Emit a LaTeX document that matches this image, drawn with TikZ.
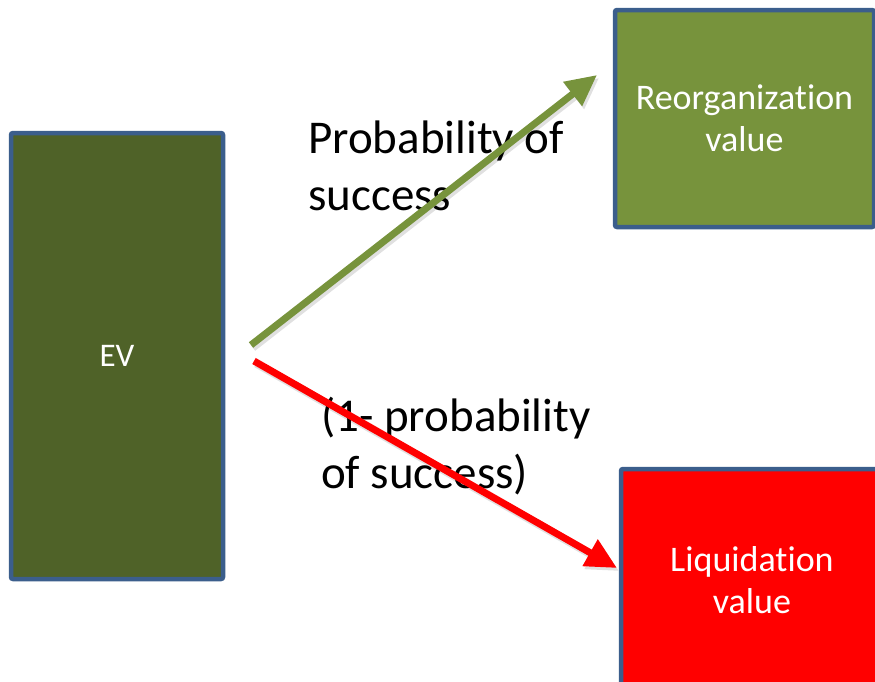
\documentclass[tikz,border=0pt]{standalone}
\usepackage{fontspec}
\setmainfont{Carlito}[Ligatures=NoCommon]
\usetikzlibrary{arrows.meta}
\definecolor{evgreen}{HTML}{4F6228}
\definecolor{reorggreen}{HTML}{77933C}
\definecolor{boxborder}{HTML}{3B5E8C}
\definecolor{liqred}{HTML}{FF0000}
\tikzset{
  box/.style={draw=boxborder, line width=4.5pt, rounded corners=2pt, text=white, align=center, inner sep=0pt},
  boxtext/.style={font=\fontsize{36}{42}\selectfont},
  lbl/.style={font=\fontsize{47}{57}\selectfont, align=left, inner sep=0pt, text=black},
  arr/.style={line width=7pt, -{Triangle[length=31pt,width=29pt]}},
  arrshadow/.style={line width=7pt, draw=black, opacity=0.12, -{Triangle[length=31pt,width=29pt]}}
}
\begin{document}
\begin{tikzpicture}[x=1pt,y=-1pt]
\useasboundingbox (0,0) rectangle (875,681);
\clip (0,0) rectangle (875,681);
\node[box, fill=evgreen, minimum width=212pt, minimum height=446pt, font=\fontsize{33}{38}\selectfont] (ev) at (117,356) {EV};
\node[box, fill=reorggreen, minimum width=259pt, minimum height=217pt, boxtext] (reorg) at (744.5,118.5) {Reorganization\\value};
\node[box, fill=liqred, minimum width=262pt, minimum height=222pt, boxtext] (liq) at (752,580) {Liquidation\\value};
\coordinate (gs) at (251,345);
\coordinate (ge) at (597,75);
\coordinate (rs) at (254,361);
\coordinate (re) at (617,568);
\draw[arrshadow] ([shift={(2,3)}]gs) -- ([shift={(2,3)}]ge);
\draw[arrshadow] ([shift={(2,3)}]rs) -- ([shift={(2,3)}]re);
\node[lbl, anchor=base west] (p1) at (308,210) {Probability of\\success};
\node[lbl, anchor=base west] (p2) at (321,488) {(1- probability\\of success)};
\draw[arr, draw=reorggreen, fill=reorggreen] (gs) -- (ge);
\draw[arr, draw=liqred, fill=liqred] (rs) -- (re);
\end{tikzpicture}
\end{document}
